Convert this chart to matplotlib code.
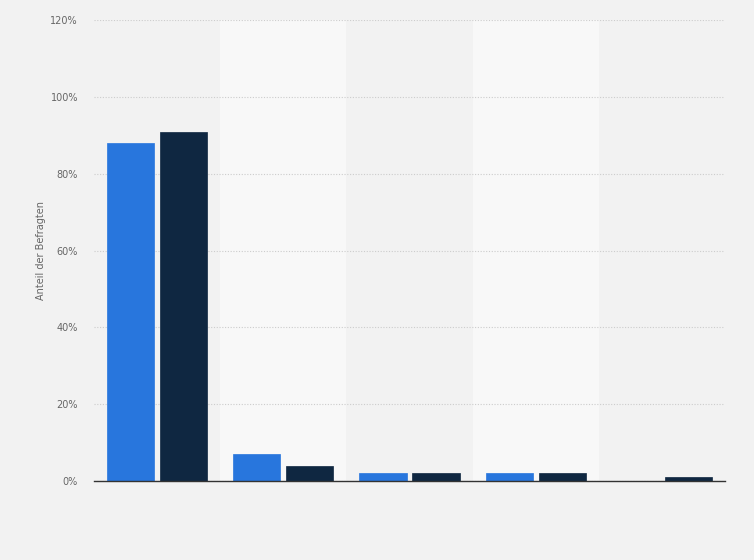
import matplotlib
matplotlib.use("Agg")
import matplotlib.pyplot as plt
import numpy as np

# values (percent)
groups = ["", "", "", "", ""]
series_a = [88, 7, 2, 2, 0]
series_b = [91, 4, 2, 2, 1]
yticks = [0, 20, 40, 60, 80, 100, 120]

fig = plt.figure(figsize=(7.54, 5.6), dpi=100)
fig.patch.set_facecolor("#f2f2f2")
ax = fig.add_axes([0.1247, 0.141, 0.8368, 0.823])
ax.set_facecolor("#f2f2f2")

x = np.arange(len(groups))
w = 0.373
off = 0.21

# alternating column bands
for i in x:
    if i % 2 == 1:
        ax.axvspan(i - 0.5, i + 0.5, color="#f8f8f8", zorder=0, lw=0)

ax.bar(x - off, series_a, w, color="#2876dd", zorder=3, edgecolor="#2876dd", linewidth=0.5)
ax.bar(x + off, series_b, w, color="#0f2741", zorder=3, edgecolor="#0f2741", linewidth=0.5)

ax.set_xlim(-0.5, len(groups) - 0.5)
ax.set_ylim(0, 120)
ax.set_yticks(yticks)
ax.set_yticklabels([f"{t}%" for t in yticks], fontsize=7, color="#666666")
ax.set_xticks([])
ax.yaxis.grid(True, linestyle=(0, (1, 1.5)), color="#cccccc", linewidth=0.8, zorder=1)
ax.tick_params(axis="y", length=0, pad=11.5)

for s in ["top", "right", "left"]:
    ax.spines[s].set_visible(False)
ax.spines["bottom"].set_color("#333333")
ax.spines["bottom"].set_linewidth(1)
ax.spines["bottom"].set_zorder(4)

ax.set_ylabel("Anteil der Befragten", fontsize=7, color="#666666", labelpad=3)

fig.savefig("out.png", dpi=100, facecolor=fig.get_facecolor())
